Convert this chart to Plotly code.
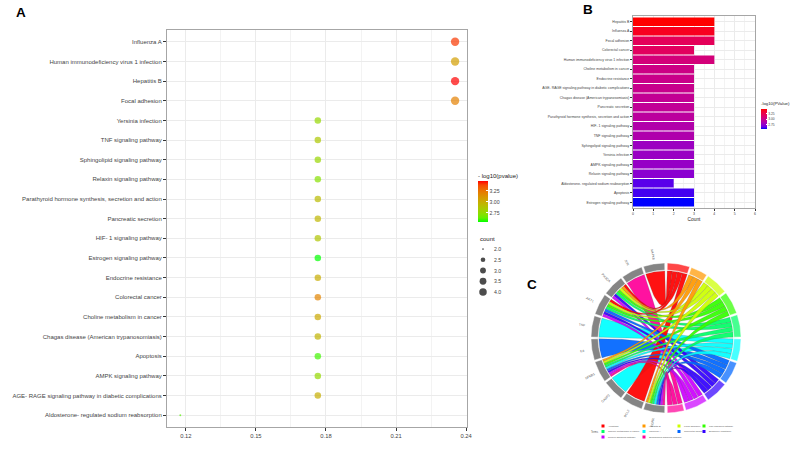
import numpy as np
import plotly.graph_objects as go

# ---------------- Panel A data ----------------
pathways_A = ["Influenza A", "Human immunodeficiency virus 1 infection", "Hepatitis B", "Focal adhesion",
              "Yersinia infection", "TNF signaling pathway", "Sphingolipid signaling pathway",
              "Relaxin signaling pathway", "Parathyroid hormone synthesis, secretion and action",
              "Pancreatic secretion", "HIF- 1 signaling pathway", "Estrogen signaling pathway",
              "Endocrine resistance", "Colorectal cancer", "Choline metabolism in cancer",
              "Chagas disease (American trypanosomiasis)", "Apoptosis", "AMPK signaling pathway",
              "AGE- RAGE signaling pathway in diabetic complications",
              "Aldosterone- regulated sodium reabsorption"]
count_A = [4, 4, 4, 4, 3, 3, 3, 3, 3, 3, 3, 3, 3, 3, 3, 3, 3, 3, 3, 2]
gene_ratio_A = [0.2353, 0.2353, 0.2353, 0.2353, 0.1765, 0.1765, 0.1765, 0.1765, 0.1765, 0.1765,
                0.1765, 0.1765, 0.1765, 0.1765, 0.1765, 0.1765, 0.1765, 0.1765, 0.1765, 0.1176]
neglogp_A = [3.40, 3.07, 3.47, 3.20, 2.77, 2.86, 2.78, 2.72, 2.92, 2.95,
             2.87, 2.54, 3.00, 3.18, 3.02, 2.96, 2.60, 2.76, 2.99, 2.62]
x_ticks_A = [0.12, 0.15, 0.18, 0.21, 0.24]
size_legend_A = [2.0, 2.5, 3.0, 3.5, 4.0]
cbar_ticks = [2.75, 3.00, 3.25]

# ---------------- Panel B data ----------------
pathways_B = ["Hepatitis B", "Influenza A", "Focal adhesion", "Colorectal cancer",
              "Human immunodeficiency virus 1 infection", "Choline metabolism in cancer",
              "Endocrine resistance", "AGE- RAGE signaling pathway in diabetic complications",
              "Chagas disease (American trypanosomiasis)", "Pancreatic secretion",
              "Parathyroid hormone synthesis, secretion and action", "HIF- 1 signaling pathway",
              "TNF signaling pathway", "Sphingolipid signaling pathway", "Yersinia infection",
              "AMPK signaling pathway", "Relaxin signaling pathway",
              "Aldosterone- regulated sodium reabsorption", "Apoptosis", "Estrogen signaling pathway"]
count_B = [4, 4, 4, 3, 4, 3, 3, 3, 3, 3, 3, 3, 3, 3, 3, 3, 3, 2, 3, 3]
neglogp_B = [3.47, 3.40, 3.20, 3.18, 3.07, 3.02, 3.00, 2.99, 2.96, 2.95,
             2.92, 2.87, 2.86, 2.78, 2.77, 2.76, 2.72, 2.62, 2.60, 2.54]
x_ticks_B = [0, 1, 2, 3, 4, 5, 6]

# ---------------- Panel C data (chord: genes x terms) ----------------
genes_C = ["MAPK8", "JUN", "PIK3CA", "AKT1", "TNF", "IL6", "NFKB1", "CASP3", "BCL2", "EGFR"]
terms_C = ["Apoptosis", "Hepatitis B", "Focal adhesion", "TNF signaling pathway",
           "Choline metabolism in cancer", "Influenza A", "Colorectal cancer", "Endocrine resistance",
           "Relaxin signaling pathway", "Sphingolipid signaling pathway"]
term_colors_C = ["#FF0000", "#FF9900", "#CCFF00", "#33FF00", "#00FF66",
                 "#00FFFF", "#0066FF", "#3300FF", "#CC00FF", "#FF0099"]
link_gene = [0,
             1,
             2, 2, 2, 2, 2, 2, 2,
             3, 3, 3, 3, 3, 3, 3,
             4,
             5,
             6, 6, 6, 6, 6, 6, 6, 6, 6,
             7,
             8,
             9, 9, 9, 9, 9, 9, 9, 9, 9]
link_term = [0,
             9,
             0, 1, 2, 3, 4, 7, 8,
             0, 2, 3, 4, 6, 7, 8,
             5,
             6,
             1, 2, 3, 4, 5, 6, 7, 8, 9,
             5,
             0,
             1, 2, 3, 4, 5, 6, 7, 8, 9]

W, H = 800, 450
FONT = "Liberation Sans, Arial, sans-serif"


def px_x(p):
    return p / W


def px_y(p):
    return 1 - p / H


# ---- Lab colour interpolation (ggplot style gradient) ----
_M = np.array([[0.4124, 0.3576, 0.1805], [0.2126, 0.7152, 0.0722], [0.0193, 0.1192, 0.9505]])
_WP = np.array([0.95047, 1.0, 1.08883])


def _to_lab(hexc):
    rgb = np.array([int(hexc[i:i + 2], 16) for i in (1, 3, 5)]) / 255.0
    lin = np.where(rgb <= 0.04045, rgb / 12.92, ((rgb + 0.055) / 1.055) ** 2.4)
    xyz = _M @ lin / _WP
    f = np.where(xyz > 0.008856, np.cbrt(xyz), 7.787 * xyz + 16 / 116)
    return np.array([116 * f[1] - 16, 500 * (f[0] - f[1]), 200 * (f[1] - f[2])])


def _from_lab(lab):
    L, a, b = lab
    fy = (L + 16) / 116
    f = np.array([fy + a / 500, fy, fy - b / 200])
    xyz = np.where(f ** 3 > 0.008856, f ** 3, (f - 16 / 116) / 7.787) * _WP
    lin = np.clip(np.linalg.inv(_M) @ xyz, 0, 1)
    rgb = np.where(lin <= 0.0031308, 12.92 * lin, 1.055 * lin ** (1 / 2.4) - 0.055)
    rgb = np.clip(np.round(rgb * 255), 0, 255).astype(int)
    return "rgb(%d,%d,%d)" % tuple(rgb)


def lab_scale(low, high, n=11):
    l1, l2 = _to_lab(low), _to_lab(high)
    return [[i / (n - 1), _from_lab(l1 + (l2 - l1) * i / (n - 1))] for i in range(n)]


fig = go.Figure()

# ================= Panel A =================
def dot_diam(c):
    return 0.6 + 1.3 * (1 + 5 * np.sqrt((np.asarray(c, float) - 2.0) / 2.0))


fig.add_trace(go.Scatter(
    x=gene_ratio_A, y=pathways_A, mode="markers", xaxis="x", yaxis="y",
    marker=dict(size=dot_diam(count_A), color=neglogp_A, coloraxis="coloraxis", line=dict(width=0)),
    showlegend=False, hoverinfo="skip"))

# size legend keys (helper axis)
fig.add_trace(go.Scatter(
    x=[0.5] * len(size_legend_A), y=size_legend_A, mode="markers", xaxis="x4", yaxis="y4",
    marker=dict(size=dot_diam(size_legend_A) * 0.9, color="black", line=dict(width=0)),
    showlegend=False, hoverinfo="skip"))

# ================= Panel B =================
fig.add_trace(go.Bar(
    x=count_B, y=pathways_B, orientation="h", xaxis="x2", yaxis="y2",
    marker=dict(color=neglogp_B, coloraxis="coloraxis2", line=dict(width=0)),
    showlegend=False, hoverinfo="skip"))

# ================= Panel C (chord) =================
R_OUT, R_IN, R_RIB = 1.0, 0.905, 0.895
GAP = 1.4


def pt(theta_deg, r):
    t = np.radians(theta_deg)
    return r * np.sin(t), r * np.cos(t)


def arc(t1, t2, r, n=20):
    return [pt(t, r) for t in np.linspace(t1, t2, n)]


ng, nt = len(genes_C), len(terms_C)
links = list(zip(link_gene, link_term))
gene_deg = np.bincount(link_gene, minlength=ng)
term_deg = np.bincount(link_term, minlength=nt)

gene_span = (178.0 - (ng - 1) * GAP) / ng
gene_start = [-(1.0 + i * (gene_span + GAP)) for i in range(ng)]
avail = 178.0 - (nt - 1) * GAP
term_span = term_deg / term_deg.sum() * avail
term_start = []
acc = 1.0
for s in term_span:
    term_start.append(acc)
    acc += s + GAP

gene_pos, term_pos = {}, {}
for g in range(ng):
    own = sorted([k for k, l in enumerate(links) if l[0] == g], key=lambda k: links[k][1])
    cur = gene_start[g]
    w = gene_span / gene_deg[g]
    for k in own:
        gene_pos[k] = (cur, cur - w)
        cur -= w
for t in range(nt):
    own = sorted([k for k, l in enumerate(links) if l[1] == t], key=lambda k: links[k][0])
    cur = term_start[t]
    w = term_span[t] / term_deg[t]
    for k in own:
        term_pos[k] = (cur, cur + w)
        cur += w


def bez(p0, p2, n=30):
    s = np.linspace(0, 1, n)[:, None]
    pts = (1 - s) ** 2 * np.array(p0) + s ** 2 * np.array(p2)
    return [tuple(p) for p in pts]


def hex_rgba(h, a):
    return "rgba(%d,%d,%d,%.2f)" % (int(h[1:3], 16), int(h[3:5], 16), int(h[5:7], 16), a)


order = sorted(range(len(links)), key=lambda k: -(gene_pos[k][0] - gene_pos[k][1]))
for k in order:
    g, t = links[k]
    a1, a2 = gene_pos[k]
    b1, b2 = term_pos[k]
    pts = (arc(a1, a2, R_RIB) + bez(pt(a2, R_RIB), pt(b2, R_RIB)) +
           arc(b2, b1, R_RIB) + bez(pt(b1, R_RIB), pt(a1, R_RIB)))
    xs = [p[0] for p in pts] + [pts[0][0]]
    ys = [p[1] for p in pts] + [pts[0][1]]
    fig.add_trace(go.Scatter(x=xs, y=ys, mode="lines", fill="toself", xaxis="x3", yaxis="y3",
                             fillcolor=hex_rgba(term_colors_C[t], 0.93),
                             line=dict(color="rgba(90,90,90,0.55)", width=0.4),
                             showlegend=False, hoverinfo="skip"))


def ring_seg(t1, t2, color):
    pts = arc(t1, t2, R_OUT) + arc(t2, t1, R_IN)
    xs = [p[0] for p in pts] + [pts[0][0]]
    ys = [p[1] for p in pts] + [pts[0][1]]
    fig.add_trace(go.Scatter(x=xs, y=ys, mode="lines", fill="toself", xaxis="x3", yaxis="y3",
                             fillcolor=color, line=dict(color="rgba(255,255,255,0.9)", width=0.5),
                             showlegend=False, hoverinfo="skip"))


for g in range(ng):
    ring_seg(gene_start[g], gene_start[g] - gene_span, "#858585")
for t in range(nt):
    ring_seg(term_start[t], term_start[t] + term_span[t], hex_rgba(term_colors_C[t], 0.72))

annotations = []
for g in range(ng):
    th = gene_start[g] - gene_span / 2
    x, y = pt(th, 1.13)
    ang = np.degrees(np.arctan2(-np.cos(np.radians(th)), np.sin(np.radians(th)))) + 180
    annotations.append(dict(x=x, y=y, xref="x3", yref="y3", text=genes_C[g], showarrow=False,
                            textangle=float(ang), font=dict(size=3.2, color="#555555", family=FONT)))

# chord legend (4 columns, filled by row)
leg_x = [603, 644, 679, 704]
leg_y = [426, 431.5, 437]
for i, name in enumerate(terms_C):
    r, c = divmod(i, 4)
    cx, cy = leg_x[c], leg_y[r]
    fig.add_shape(type="rect", xref="paper", yref="paper",
                  x0=px_x(cx - 1.5), x1=px_x(cx + 1.5), y0=px_y(cy + 1.5), y1=px_y(cy - 1.5),
                  fillcolor=term_colors_C[i], line=dict(width=0))
    annotations.append(dict(x=px_x(cx + 3), y=px_y(cy), xref="paper", yref="paper", text=name,
                            showarrow=False, xanchor="left", yanchor="middle",
                            font=dict(size=2.4, color="#555555", family=FONT)))
annotations.append(dict(x=px_x(589), y=px_y(431.5), xref="paper", yref="paper", text="Terms",
                        showarrow=False, xanchor="left", yanchor="middle",
                        font=dict(size=2.6, color="#555555", family=FONT)))

for v in size_legend_A:
    annotations.append(dict(x=1.0, y=v, xref="x4", yref="y4", text="%.1f" % v, showarrow=False,
                            xanchor="left", yanchor="middle", xshift=0,
                            font=dict(size=5.2, color="#444444", family=FONT)))
annotations.append(dict(x=px_x(478), y=px_y(239), xref="paper", yref="paper", text="count",
                        showarrow=False, xanchor="left", yanchor="middle",
                        font=dict(size=6, color="#222222", family=FONT)))

for txt, xx, yy in [("A", 21, 13), ("B", 588, 9), ("C", 532, 284)]:
    annotations.append(dict(x=px_x(xx), y=px_y(yy), xref="paper", yref="paper", text="<b>%s</b>" % txt,
                            showarrow=False, xanchor="center", yanchor="middle",
                            font=dict(size=13.5, color="black", family=FONT)))

axis_common = dict(showline=True, linecolor="#A6A6A6", linewidth=1, mirror=True, zeroline=False,
                   automargin=False)

fig.update_layout(
    width=W, height=H, margin=dict(l=0, r=0, t=0, b=0, autoexpand=False),
    paper_bgcolor="white", plot_bgcolor="white",
    font=dict(family=FONT, color="#333333"),
    xaxis=dict(domain=[px_x(167), px_x(467)], range=[0.1119, 0.2404], tickvals=x_ticks_A,
               ticktext=["%.2f" % v for v in x_ticks_A], ticks="outside", ticklen=3, tickcolor="#333333",
               tickfont=dict(size=5.8, color="#444444"), gridcolor="#EBEBEB", gridwidth=1,
               minor=dict(tickvals=[0.135, 0.165, 0.195, 0.225], showgrid=True, gridcolor="#F3F3F3", ticks=""),
               anchor="y", **axis_common),
    yaxis=dict(domain=[px_y(427), px_y(30)], range=[19.6, -0.6], type="category",
               categoryorder="array", categoryarray=pathways_A,
               ticks="outside", ticklen=3, tickcolor="#333333",
               tickfont=dict(size=6, color="#444444"), gridcolor="#EBEBEB", anchor="x", **axis_common),
    xaxis2=dict(domain=[px_x(633), px_x(755)], range=[0, 6], tickvals=x_ticks_B, ticks="outside", ticklen=2,
                tickcolor="#333333", tickfont=dict(size=3.5, color="#444444"), gridcolor="#EBEBEB",
                minor=dict(dtick=0.5, showgrid=True, gridcolor="#F3F3F3", ticks=""),
                title=dict(text="Count", font=dict(size=4.8, color="#222222"), standoff=2),
                anchor="y2", **axis_common),
    yaxis2=dict(domain=[px_y(208), px_y(16)], range=[19.6, -0.6], type="category",
                categoryorder="array", categoryarray=pathways_B, ticks="outside", ticklen=2,
                tickcolor="#333333", tickfont=dict(size=3.5, color="#444444"), gridcolor="#EBEBEB",
                anchor="x2", **axis_common),
    xaxis3=dict(domain=[px_x(576), px_x(756)], range=[-1.2, 1.2], visible=False, anchor="y3"),
    yaxis3=dict(domain=[px_y(428), px_y(248)], range=[-1.2, 1.2], visible=False, anchor="x3"),
    xaxis4=dict(domain=[px_x(474), px_x(492)], range=[0, 1], visible=False, anchor="y4"),
    yaxis4=dict(domain=[px_y(297), px_y(244)], range=[4.233, 1.767], visible=False, anchor="x4"),
    bargap=0.1,
    coloraxis=dict(cmin=min(neglogp_A), cmax=max(neglogp_A), colorscale=lab_scale("#00FF00", "#FF0000"),
                   colorbar=dict(x=px_x(478), xanchor="left", xpad=0, y=px_y(170), yanchor="top", ypad=0,
                                 len=52, lenmode="pixels", thickness=10, outlinewidth=0,
                                 tickvals=cbar_ticks, ticktext=["%.2f" % v for v in cbar_ticks],
                                 ticks="inside", tickcolor="white", ticklen=2,
                                 tickfont=dict(size=5.2, color="#444444"),
                                 title=dict(text="- log10(pvalue)", side="top",
                                            font=dict(size=6, color="#222222")))),
    coloraxis2=dict(cmin=min(neglogp_B), cmax=max(neglogp_B), colorscale=lab_scale("#0000FF", "#FF0000"),
                    colorbar=dict(x=px_x(761), xanchor="left", xpad=0, y=px_y(99), yanchor="top", ypad=0,
                                  len=30, lenmode="pixels", thickness=6, outlinewidth=0,
                                  tickvals=cbar_ticks, ticktext=["%.2f" % v for v in cbar_ticks],
                                  ticks="inside", tickcolor="white", ticklen=1,
                                  tickfont=dict(size=3.3, color="#444444"),
                                  title=dict(text="-log10(PValue)", side="top",
                                             font=dict(size=4.3, color="#222222")))),
    annotations=annotations,
)

fig.write_html("out.html", config={"displayModeBar": False},
               post_script="document.body.style.margin='0';")
